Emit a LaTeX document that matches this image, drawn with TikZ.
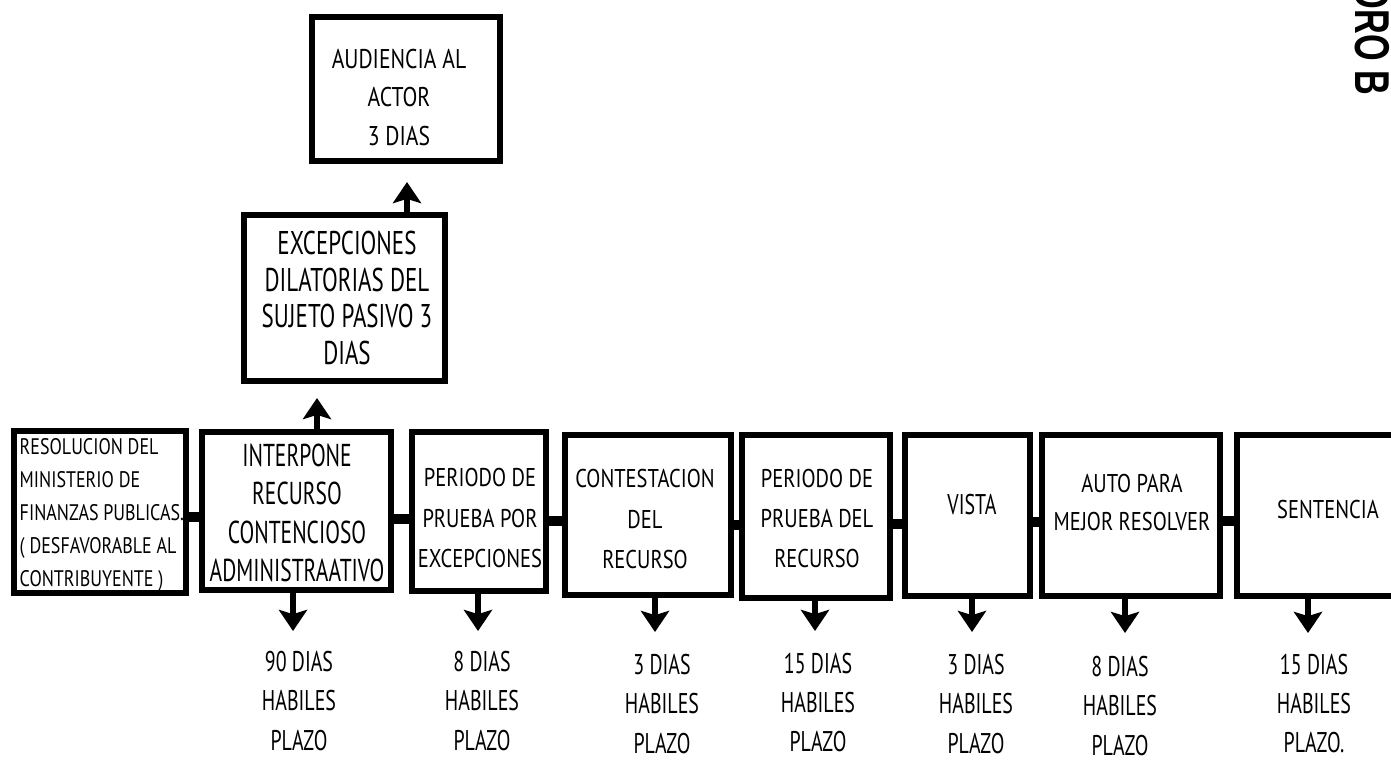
\documentclass[tikz,border=0pt]{standalone}
\usepackage{fontspec}
\setmainfont{PT Sans}
\newfontfamily\fN{PT Sans}[FakeStretch=0.7]
\newfontfamily\fNN{PT Sans}[FakeStretch=0.68]
\newfontfamily\fM{PT Sans}[FakeStretch=0.8]
\newfontfamily\fW{PT Sans}[FakeStretch=0.8]
\newfontfamily\fD{Liberation Sans Bold}[FakeStretch=0.7]
\usetikzlibrary{arrows.meta}
\tikzset{
  box/.style={draw, line width=1.5pt, inner sep=0pt},
  txt/.style={inner sep=0pt, align=center},
  conn/.style={line width=3pt},
  arr/.style={line width=1.8pt, -{Stealth[length=6pt,width=8pt,inset=1.2pt]}},
  big/.style={font={\fNN\fontsize{9}{10.9}\selectfont}},
  mid/.style={font={\fM\fontsize{7.3}{11.4}\selectfont}},
  low/.style={font={\fN\fontsize{8.1}{11.2}\selectfont}},
}
\begin{document}
\begin{tikzpicture}[x=0.01cm,y=-0.01cm]
\useasboundingbox (0,0) rectangle (1391,759);
\fill[white] (0,0) rectangle (1391,759);

% main row of boxes
\node[box, minimum width=1.72cm, minimum height=1.62cm] (b1) at (100,512) {};
\node[box, minimum width=1.89cm, minimum height=1.58cm] (b2) at (296.5,511) {};
\node[box, minimum width=1.34cm, minimum height=1.59cm] (b3) at (479,511.5) {};
\node[box, minimum width=1.66cm, minimum height=1.60cm] (b4) at (648,515) {};
\node[box, minimum width=1.48cm, minimum height=1.63cm] (b5) at (816,516.5) {};
\node[box, minimum width=1.25cm, minimum height=1.61cm] (b6) at (967.5,515.5) {};
\node[box, minimum width=1.78cm, minimum height=1.61cm] (b7) at (1131,515.5) {};
\node[box, minimum width=1.83cm, minimum height=1.61cm] (b8) at (1328.5,515.5) {};

% upper boxes
\node[box, minimum width=2.01cm, minimum height=1.66cm] (ex) at (344.5,298) {};
\node[box, minimum width=1.88cm, minimum height=1.44cm] (au) at (406,89) {};

% texts in boxes
\node[inner sep=0pt, anchor=west, align=left, font={\fW\fontsize{6.4}{9.4}\selectfont}] (b1t) at (19,515)
  {RESOLUCION DEL\\MINISTERIO DE\\FINANZAS PUBLICAS.\\( DESFAVORABLE AL\\CONTRIBUYENTE )};
\node[txt, big] (b2t) at (297,513) {INTERPONE\\RECURSO\\CONTENCIOSO\\ADMINISTRAATIVO};
\node[txt, mid] (b3t) at (480,518) {PERIODO DE\\PRUEBA POR\\EXCEPCIONES};
\node[txt, mid] (b4t) at (645,519) {CONTESTACION\\DEL\\RECURSO};
\node[txt, mid] (b5t) at (817,518.5) {PERIODO DE\\PRUEBA DEL\\RECURSO};
\node[txt, font={\fN\fontsize{8.1}{10}\selectfont}] (b6t) at (972,505) {VISTA};
\node[txt, font={\fM\fontsize{7.3}{10.8}\selectfont}] (b7t) at (1132,502) {AUTO PARA\\MEJOR RESOLVER};
\node[txt, mid] (b8t) at (1328,509) {SENTENCIA};
\node[txt, font={\fN\fontsize{9.35}{10.5}\selectfont}] (ext) at (347,298) {EXCEPCIONES\\DILATORIAS DEL\\SUJETO PASIVO 3\\DIAS};
\node[txt, font={\fM\fontsize{7.7}{10.95}\selectfont}] (aut) at (399,97.5) {AUDIENCIA AL\\ACTOR\\3 DIAS};

% connectors between boxes
\draw[conn] (b1.east |- 0,517) -- (b2.west |- 0,517);
\draw[conn] (b2.east |- 0,519) -- (b3.west |- 0,519);
\draw[conn] (b3.east |- 0,521) -- (b4.west |- 0,521);
\draw[conn] (b4.east |- 0,525) -- (b5.west |- 0,525);
\draw[conn] (b5.east |- 0,524) -- (b6.west |- 0,524);
\draw[conn] (b6.east |- 0,522) -- (b7.west |- 0,522);
\draw[conn] (b7.east |- 0,521) -- (b8.west |- 0,521);

% upward arrows
\coordinate (u1) at (317,398);
\coordinate (u2) at (407,182);
\draw[arr] (b2.north -| u1) -- (u1);
\draw[arr] (ex.north -| u2) -- (u2);

% downward arrows
\coordinate (t2) at (293,631);
\coordinate (t3) at (478,631);
\coordinate (t4) at (655,632);
\coordinate (t5) at (815,631);
\coordinate (t6) at (972,632);
\coordinate (t7) at (1125,633);
\coordinate (t8) at (1308,633);
\draw[arr] (b2.south -| t2) -- (t2);
\draw[arr] (b3.south -| t3) -- (t3);
\draw[arr] (b4.south -| t4) -- (t4);
\draw[arr] (b5.south -| t5) -- (t5);
\draw[arr] (b6.south -| t6) -- (t6);
\draw[arr] (b7.south -| t7) -- (t7);
\draw[arr] (b8.south -| t8) -- (t8);

% time limits
\node[txt, low] (d2) at (299,701) {90 DIAS\\HABILES\\PLAZO};
\node[txt, low] (d3) at (482,701) {8 DIAS\\HABILES\\PLAZO};
\node[txt, low] (d4) at (662,704) {3 DIAS\\HABILES\\PLAZO};
\node[txt, low] (d5) at (818,702.5) {15 DIAS\\HABILES\\PLAZO};
\node[txt, low] (d6) at (976,704) {3 DIAS\\HABILES\\PLAZO};
\node[txt, low] (d7) at (1120,706) {8 DIAS\\HABILES\\PLAZO};
\node[txt, low] (d8) at (1314,703.5) {15 DIAS\\HABILES\\PLAZO.};

% cut-off title
\node[rotate=-90, inner sep=0pt, font={\fD\fontsize{13.9}{14}\selectfont}] (tag) at (1372.5,40) {DRO B};
\end{tikzpicture}
\end{document}
